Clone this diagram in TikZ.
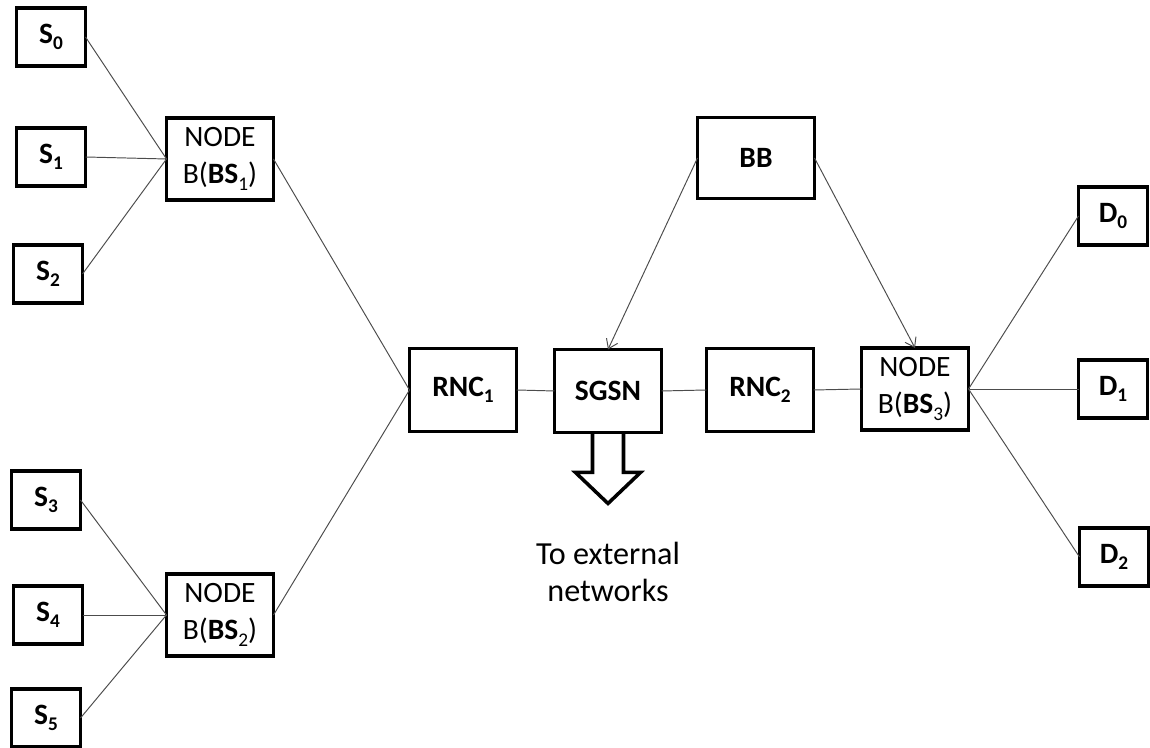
\documentclass[tikz,border=0pt]{standalone}
\usepackage{fontspec}
\setmainfont{Carlito}
\usepackage{tikz,tkz-graph}
\usetikzlibrary{arrows.meta}
\newcommand{\lowsub}[1]{\raisebox{-0.45ex}{\fontsize{11}{12}\selectfont #1}}
\tikzstyle{boxSmall}=[shape = rectangle, minimum width = 1.38cm, minimum height = 1.16cm, inner sep = 0pt, line width = 2pt, draw, font = \fontsize{16.8}{20}\selectfont]
\tikzstyle{boxLarge}=[shape = rectangle, minimum width = 2.14cm, minimum height = 1.64cm, inner sep = 0pt, line width = 2pt, draw, align = center, font = \fontsize{16.8}{21}\selectfont]

\begin{document}
\begin{tikzpicture}
\tikzstyle{VertexStyle} = []
\tikzstyle{EdgeStyle} = []
\tikzstyle{linkStyle}=[draw = black!70, line width = 0.55pt]
\tikzstyle{pushStyle}=[linkStyle, -{Straight Barb[length = 5pt, width = 7pt]}]
\tikzstyle{outStyle}=[line width = 2pt, line join = miter]
\useasboundingbox (0,0) rectangle (23,14.96);
% sources
\Vertex[style = boxSmall, x = 1.02, y = 14.22, L = {\textbf{S\lowsub{0}}}]{s0}
\Vertex[style = boxSmall, x = 1.02, y = 11.82, L = {\textbf{S\lowsub{1}}}]{s1}
\Vertex[style = boxSmall, x = 0.96, y = 9.48, L = {\textbf{S\lowsub{2}}}]{s2}
\Vertex[style = boxSmall, x = 0.92, y = 4.96, L = {\textbf{S\lowsub{3}}}]{s3}
\Vertex[style = boxSmall, x = 0.96, y = 2.66, L = {\textbf{S\lowsub{4}}}]{s4}
\Vertex[style = boxSmall, x = 0.92, y = 0.60, L = {\textbf{S\lowsub{5}}}]{s5}
% base stations and core
\Vertex[style = boxLarge, x = 4.40, y = 11.78, L = {NODE\\B(\textbf{BS}\lowsub{1})}]{bs1}
\Vertex[style = boxLarge, x = 4.40, y = 2.66, L = {NODE\\B(\textbf{BS}\lowsub{2})}]{bs2}
\Vertex[style = {boxLarge, minimum height = 1.66cm}, x = 9.26, y = 7.16, L = {\textbf{RNC\lowsub{1}}}]{rnc1}
\Vertex[style = {boxLarge, minimum height = 1.66cm}, x = 12.16, y = 7.14, L = {\textbf{SGSN}}]{sgsn}
\Vertex[style = {boxLarge, minimum height = 1.66cm}, x = 15.20, y = 7.16, L = {\textbf{RNC\lowsub{2}}}]{rnc2}
\Vertex[style = boxLarge, x = 18.30, y = 7.18, L = {NODE\\B(\textbf{BS}\lowsub{3})}]{bs3}
\Vertex[style = {boxLarge, minimum width = 2.34cm, minimum height = 1.62cm}, x = 15.12, y = 11.80, L = {\textbf{BB}}]{bb}
% destinations
\Vertex[style = boxSmall, x = 22.26, y = 10.64, L = {\textbf{D\lowsub{0}}}]{d0}
\Vertex[style = boxSmall, x = 22.26, y = 7.18, L = {\textbf{D\lowsub{1}}}]{d1}
\Vertex[style = boxSmall, x = 22.28, y = 3.82, L = {\textbf{D\lowsub{2}}}]{d2}
\node[align = center, font = \fontsize{18.3}{21}\selectfont] (ext) at (12.16,3.52) {To external\\networks};
% links
\foreach \s in {s0,s1,s2} \draw[linkStyle] (\s.east) -- (bs1.west);
\foreach \s in {s3,s4,s5} \draw[linkStyle] (\s.east) -- (bs2.west);
\foreach \d in {d0,d1,d2} \draw[linkStyle] (bs3.east) -- (\d.west);
\draw[linkStyle] (bs1.east) -- (rnc1.west);
\draw[linkStyle] (bs2.east) -- (rnc1.west);
\draw[linkStyle] (rnc1.east) -- (sgsn.west);
\draw[linkStyle] (sgsn.east) -- (rnc2.west);
\draw[linkStyle] (rnc2.east) -- (bs3.west);
\draw[pushStyle] (bb.west) -- (sgsn.north);
\draw[pushStyle] (bb.east) -- (bs3.north);
% exit arrow
\draw[outStyle] ([xshift = -0.31cm]sgsn.south) -- ++(0,-0.8) -- ++(-0.34,0) -- ++(0.65,-0.62) -- ++(0.65,0.62) -- ++(-0.34,0) -- ([xshift = 0.31cm]sgsn.south);
\end{tikzpicture}
\end{document}
